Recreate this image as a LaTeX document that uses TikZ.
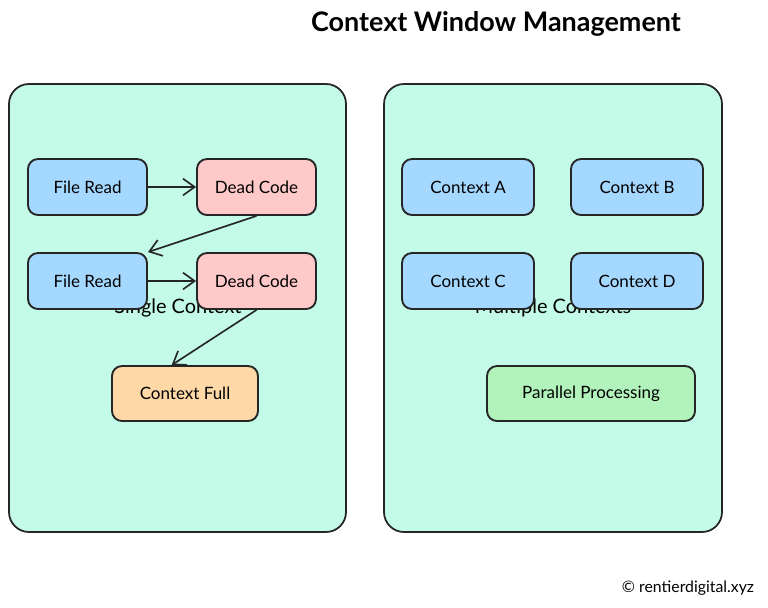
\documentclass[tikz,border=0pt]{standalone}
\usepackage{fontspec}
\setmainfont{Lato}
\usetikzlibrary{arrows.meta}
\definecolor{mint}{HTML}{C3FAE8}
\definecolor{blu}{HTML}{A5D8FF}
\definecolor{pnk}{HTML}{FFC9C9}
\definecolor{org}{HTML}{FFD8A8}
\definecolor{grn}{HTML}{B2F2BB}
\begin{document}
\begin{tikzpicture}[x=0.03cm, y=-0.03cm,
  box/.style={draw=black!85, line width=1.6pt, rounded corners=0.3cm, minimum height=1.68cm, font=\fontsize{14.5}{17}\selectfont},
  panel/.style={draw=black!85, line width=1.5pt, rounded corners=0.6cm, fill=mint},
  flow/.style={-{Straight Barb[length=3.5mm, width=5mm]}, line width=1.4pt, black!85}]
  \useasboundingbox (0,0) rectangle (768,607);
  \node[font=\fontsize{23}{27}\selectfont\bfseries] (title) at (496,24) {Context Window Management};
  % panels
  \draw[panel] (9,84) rectangle (346,532);
  \draw[panel] (384,84) rectangle (722,532);
  \node[font=\fontsize{17}{20}\selectfont] (single) at (178,308) {Single Context};
  \node[font=\fontsize{17}{20}\selectfont] (multi) at (553,308) {Multiple Contexts};
  % single context
  \node[box, fill=blu, minimum width=3.57cm] (fr1) at (87.5,187) {File Read};
  \node[box, fill=pnk, minimum width=3.57cm] (dc1) at (256.5,187) {Dead Code};
  \node[box, fill=blu, minimum width=3.57cm] (fr2) at (87.5,281) {File Read};
  \node[box, fill=pnk, minimum width=3.57cm] (dc2) at (256.5,281) {Dead Code};
  \node[box, fill=org, minimum width=4.38cm, minimum height=1.65cm] (full) at (185,393.5) {Context Full};
  \draw[flow] (fr1) -- (dc1);
  \draw[flow] (dc1.south) -- (fr2.north east);
  \draw[flow] (fr2) -- (dc2);
  \draw[flow] (dc2.south) -- ([xshift=-0.4cm]full.north);
  % multiple contexts
  \node[box, fill=blu, minimum width=3.96cm] (ca) at (468,187) {Context A};
  \node[box, fill=blu, minimum width=3.96cm] (cb) at (637,187) {Context B};
  \node[box, fill=blu, minimum width=3.96cm] (cc) at (468,281) {Context C};
  \node[box, fill=blu, minimum width=3.96cm] (cd) at (637,281) {Context D};
  \node[box, fill=grn, minimum width=6.24cm, minimum height=1.65cm] (par) at (591,393.5) {Parallel Processing};
  \node[font=\fontsize{13.5}{16}\selectfont] (copy) at (688,588) {© rentierdigital.xyz};
\end{tikzpicture}
\end{document}
